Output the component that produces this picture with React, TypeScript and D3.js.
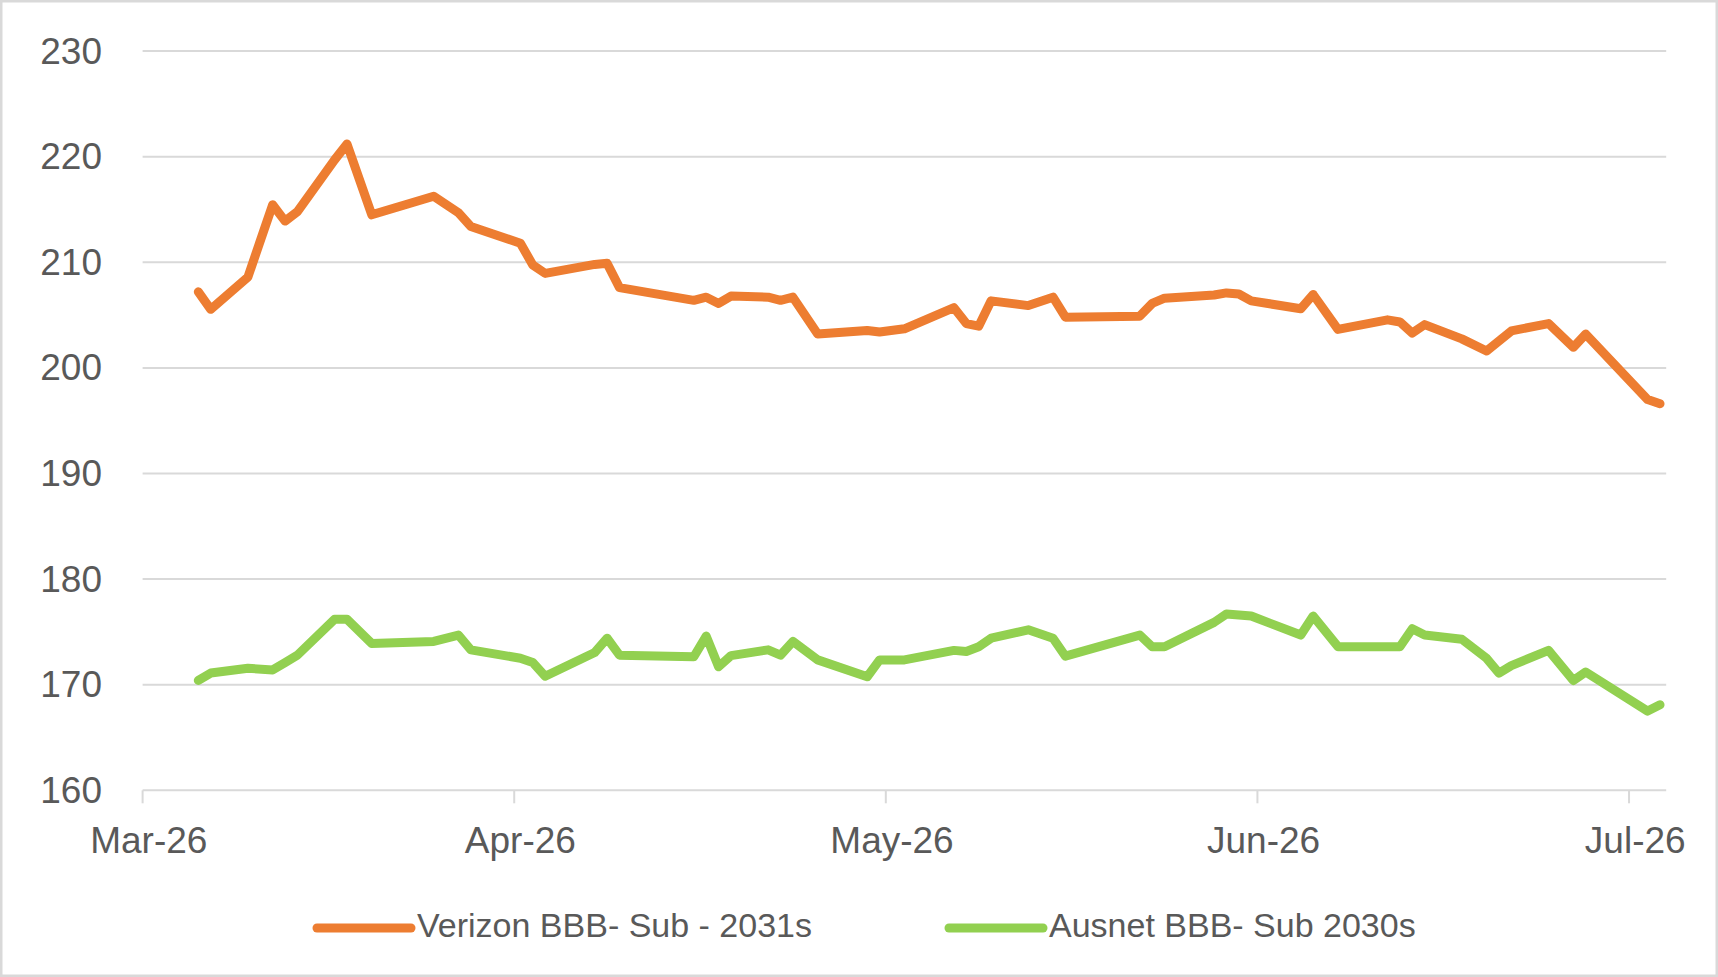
import React, { useEffect, useRef } from 'react';
import * as d3 from 'd3';

// trading days shown on the chart
const dates = [
  '2026-03-05', '2026-03-06', '2026-03-09', '2026-03-11', '2026-03-12', '2026-03-13',
  '2026-03-16', '2026-03-17', '2026-03-19', '2026-03-24', '2026-03-26', '2026-03-27',
  '2026-03-31', '2026-04-01', '2026-04-02', '2026-04-06', '2026-04-07', '2026-04-08',
  '2026-04-14', '2026-04-15', '2026-04-16', '2026-04-17', '2026-04-20', '2026-04-21',
  '2026-04-22', '2026-04-24', '2026-04-28', '2026-04-29', '2026-05-01', '2026-05-05',
  '2026-05-06', '2026-05-07', '2026-05-08', '2026-05-11', '2026-05-13', '2026-05-14',
  '2026-05-20', '2026-05-21', '2026-05-22', '2026-05-26', '2026-05-27', '2026-05-28',
  '2026-05-29', '2026-06-02', '2026-06-03', '2026-06-05', '2026-06-09', '2026-06-10',
  '2026-06-11', '2026-06-12', '2026-06-15', '2026-06-17', '2026-06-18', '2026-06-19',
  '2026-06-22', '2026-06-24', '2026-06-25', '2026-06-30', '2026-07-01',
];

const verizon = [
  207.2, 205.55, 208.6, 215.45, 213.9, 214.8,
  219.7, 221.2, 214.5, 216.25, 214.7, 213.4,
  211.8, 209.75, 208.95, 209.8, 209.9, 207.6,
  206.4, 206.7, 206.1, 206.8, 206.7, 206.4,
  206.7, 203.2, 203.55, 203.4, 203.7, 205.7,
  204.2, 203.95, 206.35, 205.9, 206.7, 204.8,
  204.9, 206.1, 206.6, 206.9, 207.1, 207.0,
  206.35, 205.6, 206.95, 203.65, 204.55, 204.35,
  203.3, 204.1, 202.75, 201.6, 202.55, 203.5,
  204.2, 201.95, 203.2, 197.0, 196.6,
];

const ausnet = [
  170.4, 171.1, 171.55, 171.4, 172.1, 172.8,
  176.2, 176.2, 173.9, 174.1, 174.7, 173.3,
  172.5, 172.1, 170.8, 173.05, 174.4, 172.8,
  172.65, 174.6, 171.7, 172.75, 173.3, 172.8,
  174.1, 172.35, 170.75, 172.35, 172.35, 173.25,
  173.15, 173.6, 174.4, 175.2, 174.4, 172.7,
  174.7, 173.6, 173.6, 175.9, 176.7, 176.6,
  176.5, 174.7, 176.5, 173.6, 173.6, 173.6,
  175.3, 174.7, 174.3, 172.5, 171.1, 171.8,
  173.25, 170.4, 171.2, 167.5, 168.1,
];

const yTicks = [160, 170, 180, 190, 200, 210, 220, 230];
const xTickLabels = ['Mar-26', 'Apr-26', 'May-26', 'Jun-26', 'Jul-26'];
const seriesNames = ['Verizon BBB- Sub - 2031s', 'Ausnet BBB- Sub 2030s'];
const seriesColors = ['#ED7D31', '#92D050'];

const App: React.FC = () => {
  const svgRef = useRef<SVGSVGElement>(null);

  useEffect(() => {
    document.body.style.margin = '0';
    if (!svgRef.current) return;

    const svg = d3.select(svgRef.current);
    svg.selectAll('*').remove();

    const width = 1718;
    const height = 977;
    const left = 142.6;
    const right = 1666.2;
    const top = 51.1;
    const bottom = 790.3;
    const font = '"Liberation Sans", Arial, sans-serif';
    const textColor = '#595959';
    const gridColor = '#D9D9D9';

    const parse = d3.utcParse('%Y-%m-%d');
    const start = parse('2026-03-01') as Date;
    const end = parse('2026-07-02') as Date;
    // Excel draws each day in the middle of its slot
    const mid = (d: Date) => d3.utcHour.offset(d, 12);

    const x = d3.scaleUtc().domain([start, end]).range([left, right]);
    const y = d3.scaleLinear().domain([160, 230]).range([bottom, top]);

    svg.append('rect')
      .attr('x', 0).attr('y', 0)
      .attr('width', width).attr('height', height)
      .attr('fill', '#fff');

    svg.append('rect')
      .attr('x', 1.25).attr('y', 1.25)
      .attr('width', width - 2.5).attr('height', height - 2.5)
      .attr('fill', 'none')
      .attr('stroke', gridColor)
      .attr('stroke-width', 2.5);

    // gridlines + y labels
    svg.append('g')
      .selectAll('line')
      .data(yTicks)
      .enter()
      .append('line')
      .attr('x1', left).attr('x2', right)
      .attr('y1', d => y(d)).attr('y2', d => y(d))
      .attr('stroke', gridColor)
      .attr('stroke-width', 2);

    svg.append('g')
      .selectAll('text')
      .data(yTicks)
      .enter()
      .append('text')
      .attr('x', 102)
      .attr('y', d => y(d) + 12.5)
      .attr('text-anchor', 'end')
      .style('font-family', font)
      .style('font-size', '37px')
      .style('fill', textColor)
      .text(d => d);

    // x ticks every 30 days from the axis start
    const xTicks = xTickLabels.map((label, i) => ({ label, date: d3.utcDay.offset(start, 30 * i) }));

    svg.append('g')
      .selectAll('line')
      .data(xTicks)
      .enter()
      .append('line')
      .attr('x1', d => x(d.date)).attr('x2', d => x(d.date))
      .attr('y1', bottom).attr('y2', bottom + 13)
      .attr('stroke', gridColor)
      .attr('stroke-width', 2);

    svg.append('g')
      .selectAll('text')
      .data(xTicks)
      .enter()
      .append('text')
      .attr('x', d => x(mid(d.date)))
      .attr('y', 853)
      .attr('text-anchor', 'middle')
      .style('font-family', font)
      .style('font-size', '37px')
      .style('fill', textColor)
      .text(d => d.label);

    // series
    const parsed = dates.map(d => parse(d) as Date);
    const line = d3.line<number>()
      .x((_, i) => x(mid(parsed[i])))
      .y(d => y(d));

    [verizon, ausnet].forEach((values, k) => {
      svg.append('path')
        .datum(values)
        .attr('d', line)
        .attr('fill', 'none')
        .attr('stroke', seriesColors[k])
        .attr('stroke-width', 9)
        .attr('stroke-linejoin', 'round')
        .attr('stroke-linecap', 'round');
    });

    // legend
    const legendX = [317, 949];
    const legend = svg.append('g')
      .selectAll('g')
      .data(seriesNames)
      .enter()
      .append('g')
      .attr('transform', (_, i) => `translate(${legendX[i]}, 928)`);

    legend.append('line')
      .attr('x1', 0).attr('x2', 94)
      .attr('y1', 0).attr('y2', 0)
      .attr('stroke', (_, i) => seriesColors[i])
      .attr('stroke-width', 9)
      .attr('stroke-linecap', 'round');

    legend.append('text')
      .attr('x', 100)
      .attr('y', 9)
      .style('font-family', font)
      .style('font-size', '34px')
      .style('fill', textColor)
      .text(d => d);
  }, []);

  return <svg ref={svgRef} width={1718} height={977} style={{ display: 'block' }} />;
};

export default App;
